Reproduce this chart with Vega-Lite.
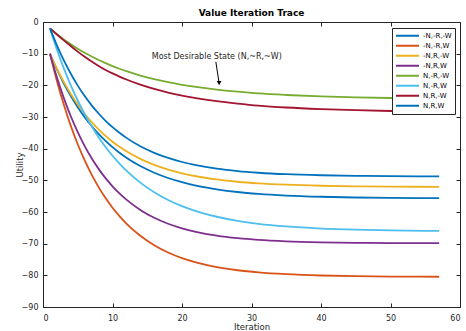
{
  "$schema": "https://vega.github.io/schema/vega-lite/v6.json",
  "width": 417,
  "height": 285,
  "autosize": {"type": "none"},
  "padding": {"left": 43, "top": 22, "right": 6, "bottom": 24},
  "background": "white",
  "title": {"text": "Value Iteration Trace", "fontSize": 9, "font": "DejaVu Sans", "fontWeight": "bold", "color": "#000000", "offset": 0, "anchor": "middle"},
  "config": {
    "view": {"stroke": "#262626", "strokeWidth": 1},
    "axis": {
      "grid": false,
      "domainColor": "#262626",
      "tickColor": "#262626",
      "labelColor": "#262626",
      "titleColor": "#262626",
      "labelFont": "DejaVu Sans",
      "titleFont": "DejaVu Sans",
      "labelFontSize": 8,
      "titleFontSize": 8.5,
      "titleFontWeight": "normal",
      "tickSize": -4,
      "tickWidth": 1
    }
  },
  "datasets": {
    "trace": [
      {"Iteration": 1, "-N,-R,-W": -10, "-N,-R,W": -10, "-N,R,-W": -10, "-N,R,W": -10, "N,-R,-W": -2, "N,-R,W": -2, "N,R,-W": -2, "N,R,W": -2},
      {"Iteration": 2, "-N,-R,-W": -14.98, "-N,-R,W": -18.6, "-N,R,-W": -14.76, "-N,R,W": -17.49, "N,-R,-W": -3.82, "N,-R,W": -8.67, "N,R,-W": -3.95, "N,R,W": -7.38},
      {"Iteration": 3, "-N,-R,-W": -19.42, "-N,-R,W": -26.15, "-N,R,-W": -18.98, "-N,R,W": -24.04, "N,-R,-W": -5.49, "N,-R,W": -14.64, "N,R,-W": -5.8, "N,R,W": -12.15},
      {"Iteration": 4, "-N,-R,-W": -23.38, "-N,-R,W": -32.79, "-N,R,-W": -22.72, "-N,R,W": -29.77, "N,-R,-W": -7.03, "N,-R,W": -19.99, "N,R,-W": -7.6, "N,R,W": -16.36},
      {"Iteration": 5, "-N,-R,-W": -26.9, "-N,-R,W": -38.6, "-N,R,-W": -26.04, "-N,R,W": -34.79, "N,-R,-W": -8.43, "N,-R,W": -24.79, "N,R,-W": -9.35, "N,R,W": -20.09},
      {"Iteration": 6, "-N,-R,-W": -30.04, "-N,-R,W": -43.71, "-N,R,-W": -28.98, "-N,R,W": -39.18, "N,-R,-W": -9.73, "N,-R,W": -29.08, "N,R,-W": -11.0, "N,R,W": -23.39},
      {"Iteration": 7, "-N,-R,-W": -32.84, "-N,-R,W": -48.2, "-N,R,-W": -31.6, "-N,R,W": -43.02, "N,-R,-W": -10.91, "N,-R,W": -32.93, "N,R,-W": -12.5, "N,R,W": -26.31},
      {"Iteration": 8, "-N,-R,-W": -35.33, "-N,-R,W": -52.14, "-N,R,-W": -33.91, "-N,R,W": -46.38, "N,-R,-W": -12.0, "N,-R,W": -36.38, "N,R,-W": -13.9, "N,R,W": -28.9},
      {"Iteration": 9, "-N,-R,-W": -37.55, "-N,-R,W": -55.6, "-N,R,-W": -35.97, "-N,R,W": -49.32, "N,-R,-W": -13.0, "N,-R,W": -39.47, "N,R,-W": -15.15, "N,R,W": -31.19},
      {"Iteration": 10, "-N,-R,-W": -39.53, "-N,-R,W": -58.64, "-N,R,-W": -37.79, "-N,R,W": -51.89, "N,-R,-W": -13.92, "N,-R,W": -42.24, "N,R,-W": -16.24, "N,R,W": -33.21},
      {"Iteration": 11, "-N,-R,-W": -41.29, "-N,-R,W": -61.3, "-N,R,-W": -39.41, "-N,R,W": -54.14, "N,-R,-W": -14.76, "N,-R,W": -44.72, "N,R,-W": -17.24, "N,R,W": -35.0},
      {"Iteration": 12, "-N,-R,-W": -42.86, "-N,-R,W": -63.65, "-N,R,-W": -40.84, "-N,R,W": -56.11, "N,-R,-W": -15.54, "N,-R,W": -46.95, "N,R,-W": -18.16, "N,R,W": -36.59},
      {"Iteration": 14, "-N,-R,-W": -45.5, "-N,-R,W": -67.51, "-N,R,-W": -43.24, "-N,R,W": -59.34, "N,-R,-W": -16.9, "N,-R,W": -50.72, "N,R,-W": -19.77, "N,R,W": -39.24},
      {"Iteration": 16, "-N,-R,-W": -47.61, "-N,-R,W": -70.49, "-N,R,-W": -45.13, "-N,R,W": -61.82, "N,-R,-W": -18.05, "N,-R,W": -53.75, "N,R,-W": -21.13, "N,R,W": -41.31},
      {"Iteration": 18, "-N,-R,-W": -49.27, "-N,-R,W": -72.78, "-N,R,-W": -46.61, "-N,R,W": -63.71, "N,-R,-W": -19.02, "N,-R,W": -56.19, "N,R,-W": -22.27, "N,R,W": -42.94},
      {"Iteration": 20, "-N,-R,-W": -50.6, "-N,-R,W": -74.55, "-N,R,-W": -47.78, "-N,R,W": -65.16, "N,-R,-W": -19.83, "N,-R,W": -58.15, "N,R,-W": -23.23, "N,R,W": -44.21},
      {"Iteration": 22, "-N,-R,-W": -51.65, "-N,-R,W": -75.91, "-N,R,-W": -48.71, "-N,R,W": -66.27, "N,-R,-W": -20.52, "N,-R,W": -59.72, "N,R,-W": -24.04, "N,R,W": -45.2},
      {"Iteration": 25, "-N,-R,-W": -52.83, "-N,-R,W": -77.4, "-N,R,-W": -49.73, "-N,R,W": -67.47, "N,-R,-W": -21.35, "N,-R,W": -61.5, "N,R,-W": -25.01, "N,R,W": -46.31},
      {"Iteration": 28, "-N,-R,-W": -53.68, "-N,-R,W": -78.4, "-N,R,-W": -50.45, "-N,R,W": -68.27, "N,-R,-W": -22.0, "N,-R,W": -62.79, "N,R,-W": -25.76, "N,R,W": -47.07},
      {"Iteration": 31, "-N,-R,-W": -54.27, "-N,-R,W": -79.08, "-N,R,-W": -50.95, "-N,R,W": -68.81, "N,-R,-W": -22.55, "N,-R,W": -63.72, "N,R,-W": -26.4, "N,R,W": -47.6},
      {"Iteration": 35, "-N,-R,-W": -54.8, "-N,-R,W": -79.65, "-N,R,-W": -51.38, "-N,R,W": -69.26, "N,-R,-W": -23.05, "N,-R,W": -64.57, "N,R,-W": -27.0, "N,R,W": -48.07},
      {"Iteration": 40, "-N,-R,-W": -55.19, "-N,-R,W": -80.06, "-N,R,-W": -51.71, "-N,R,W": -69.57, "N,-R,-W": -23.5, "N,-R,W": -65.22, "N,R,-W": -27.5, "N,R,W": -48.4},
      {"Iteration": 45, "-N,-R,-W": -55.42, "-N,-R,W": -80.27, "-N,R,-W": -51.89, "-N,R,W": -69.73, "N,-R,-W": -23.8, "N,-R,W": -65.59, "N,R,-W": -27.85, "N,R,W": -48.58},
      {"Iteration": 50, "-N,-R,-W": -55.54, "-N,-R,W": -80.38, "-N,R,-W": -51.98, "-N,R,W": -69.82, "N,-R,-W": -24.0, "N,-R,W": -65.81, "N,R,-W": -28.1, "N,R,W": -48.68},
      {"Iteration": 57, "-N,-R,-W": -55.63, "-N,-R,W": -80.45, "-N,R,-W": -52.05, "-N,R,W": -69.86, "N,-R,-W": -24.2, "N,-R,W": -65.97, "N,R,-W": -28.3, "N,R,W": -48.75}
    ],
    "note": [
      {"Iteration": 15.65, "Utility": -11.1, "label": "Most Desirable State (N,~R,~W)"}
    ],
    "arrow": [
      {"Iteration": 24.87, "Utility": -12.6, "Iteration2": 25.32, "Utility2": -19.0}
    ],
    "head": [
      {"Iteration": 25.34, "Utility": -19.3}
    ]
  },
  "layer": [
    {
      "data": {"name": "trace"},
      "transform": [
        {"fold": ["-N,-R,-W", "-N,-R,W", "-N,R,-W", "-N,R,W", "N,-R,-W", "N,-R,W", "N,R,-W", "N,R,W"], "as": ["State", "Utility"]}
      ],
      "mark": {"type": "line", "strokeWidth": 1.8, "interpolate": "monotone"},
      "encoding": {
        "x": {"field": "Iteration", "type": "quantitative", "scale": {"domain": [0, 60], "nice": false},
              "axis": {"orient": "bottom", "values": [0, 10, 20, 30, 40, 50, 60], "title": "Iteration", "labelPadding": 11, "titlePadding": 0}},
        "y": {"field": "Utility", "type": "quantitative", "scale": {"domain": [-90, 0], "nice": false},
              "axis": {"orient": "left", "values": [0, -10, -20, -30, -40, -50, -60, -70, -80, -90], "title": "Utility", "labelPadding": 9, "titlePadding": -3}},
        "color": {
          "field": "State", "type": "nominal",
          "scale": {"domain": ["-N,-R,-W", "-N,-R,W", "-N,R,-W", "-N,R,W", "N,-R,-W", "N,-R,W", "N,R,-W", "N,R,W"],
                    "range": ["#0072BD", "#D95319", "#EDB120", "#7E2F8E", "#77AC30", "#4DBEEE", "#A2142F", "#0072BD"]},
          "legend": {"orient": "none", "legendX": 349, "legendY": 6, "title": null, "strokeColor": "#262626", "fillColor": "white",
                     "padding": 3, "symbolType": "stroke", "symbolSize": 529, "symbolStrokeWidth": 2, "labelFontSize": 7,
                     "labelFont": "DejaVu Sans", "labelColor": "#000000", "clipHeight": 9.4, "rowPadding": 0, "labelOffset": 3, "cornerRadius": 0}
        }
      }
    },
    {
      "data": {"name": "note"},
      "mark": {"type": "text", "align": "left", "baseline": "middle", "font": "DejaVu Sans", "fontSize": 8, "color": "#262626"},
      "encoding": {
        "x": {"field": "Iteration", "type": "quantitative", "scale": {"domain": [0, 60], "nice": false},
              "axis": {"orient": "top", "values": [0, 10, 20, 30, 40, 50, 60], "labels": false, "title": null, "domain": false}},
        "y": {"field": "Utility", "type": "quantitative", "scale": {"domain": [-90, 0], "nice": false},
              "axis": {"orient": "right", "values": [0, -10, -20, -30, -40, -50, -60, -70, -80, -90], "labels": false, "title": null, "domain": false}},
        "text": {"field": "label"}
      }
    },
    {
      "data": {"name": "arrow"},
      "mark": {"type": "rule", "color": "#000000", "strokeWidth": 1},
      "encoding": {
        "x": {"field": "Iteration", "type": "quantitative", "scale": {"domain": [0, 60], "nice": false}, "axis": null},
        "y": {"field": "Utility", "type": "quantitative", "scale": {"domain": [-90, 0], "nice": false}, "axis": null},
        "x2": {"field": "Iteration2"},
        "y2": {"field": "Utility2"}
      }
    },
    {
      "data": {"name": "head"},
      "mark": {"type": "point", "shape": "triangle-down", "filled": true, "color": "#000000", "size": 22, "opacity": 1},
      "encoding": {
        "x": {"field": "Iteration", "type": "quantitative", "scale": {"domain": [0, 60], "nice": false}, "axis": null},
        "y": {"field": "Utility", "type": "quantitative", "scale": {"domain": [-90, 0], "nice": false}, "axis": null}
      }
    }
  ],
  "resolve": {"axis": {"x": "independent", "y": "independent"}}
}
